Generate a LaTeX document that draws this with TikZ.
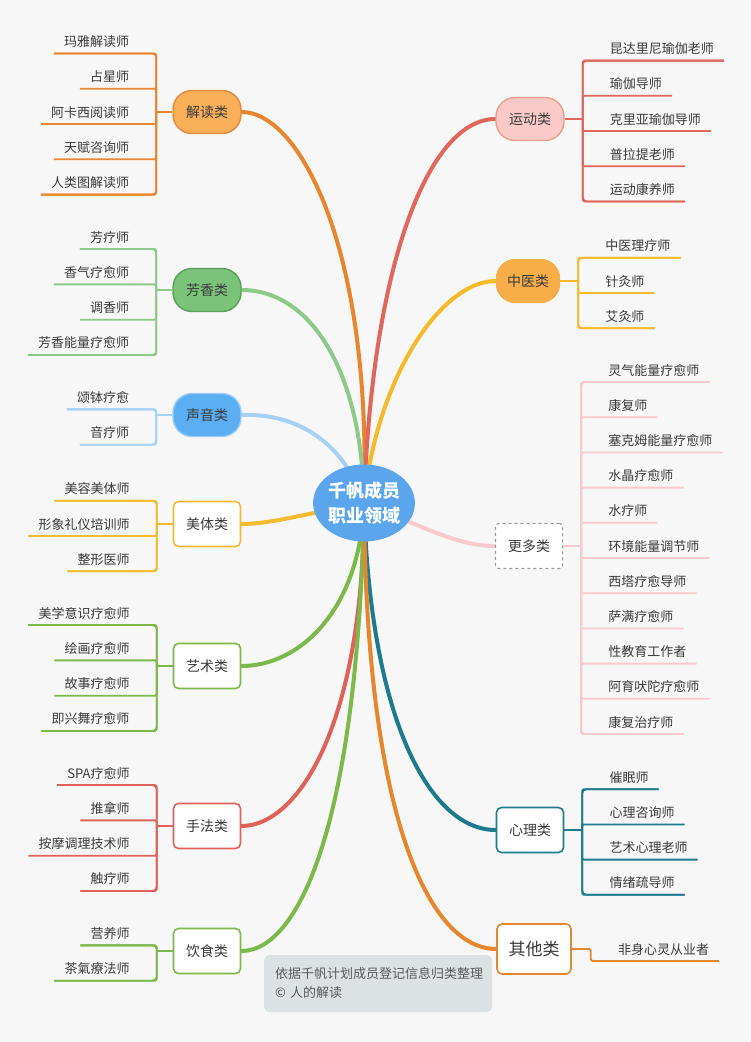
\documentclass[tikz,border=0pt]{standalone}
\usepackage{fontspec}
\setmainfont{Noto Sans CJK SC}
\usetikzlibrary{shapes.geometric,calc,backgrounds}
\definecolor{bgc}{HTML}{F7F7F7}
\definecolor{txt}{HTML}{3A3A3A}
\definecolor{cJD}{HTML}{E8862F}
\definecolor{cJDf}{HTML}{F8AF58}
\definecolor{cJDb}{HTML}{E48A3C}
\definecolor{cFX}{HTML}{8DCA8A}
\definecolor{cFXf}{HTML}{7CC37A}
\definecolor{cFXb}{HTML}{5A9F57}
\definecolor{cSY}{HTML}{A6D0F4}
\definecolor{cSYf}{HTML}{5BAEF2}
\definecolor{cSYb}{HTML}{9ACDF5}
\definecolor{cMT}{HTML}{F2BB30}
\definecolor{cYS}{HTML}{7DB84A}
\definecolor{cSF}{HTML}{DF625A}
\definecolor{cYD}{HTML}{DF675C}
\definecolor{cYDf}{HTML}{FAC9C8}
\definecolor{cYDb}{HTML}{E8A08C}
\definecolor{cZY}{HTML}{F5BA2B}
\definecolor{cZYf}{HTML}{F8AE48}
\definecolor{cGD}{HTML}{F8CACD}
\definecolor{cXL}{HTML}{1E7B8E}
\definecolor{cQT}{HTML}{E6872E}
\definecolor{cC}{HTML}{5AA5EC}
\definecolor{noteC}{HTML}{DCE2E4}
\newcommand\leavesL[4]{%
  \coordinate (#1-j) at ($(#1.west)+(-16,0)$);
  \draw[leafline,#2] (#1-j) -- (#1.west);
  \foreach \t [count=\i] in {#4} {
    \node[leaf, anchor=base east] (#1-\i) at ($(#1.west)+(-43,{(\i-1-(#3-1)/2)*35.3+5})$) {\t};
    \draw[leafline,#2,rounded corners=1.5pt] ($(#1-\i.base west)+(-10,7)$) -| (#1-j);
  }
  \draw[leafline,#2,rounded corners=4pt] ($(#1-1.base west)+(-10,7)$) -| (#1-j) |- ($(#1-#3.base west)+(-10,7)$);}
\newcommand\leavesR[4]{%
  \coordinate (#1-j) at ($(#1.east)+(18,0)$);
  \draw[leafline,#2] (#1.east) -- (#1-j);
  \foreach \t [count=\i] in {#4} {
    \node[leaf, anchor=base west] (#1-\i) at ($(#1.east)+(45,{(\i-1-(#3-1)/2)*35.2+5})$) {\t};
    \draw[leafline,#2,rounded corners=1.5pt] (#1-j) |- ($(#1-\i.base east)+(10,7)$);
  }
  \draw[leafline,#2,rounded corners=4pt] ($(#1-1.base east)+(10,7)$) -| (#1-j) |- ($(#1-#3.base east)+(10,7)$);}
\begin{document}
\begin{tikzpicture}[x=1pt,y=-1pt,
  leaf/.style={inner sep=0pt, font=\fontsize{13}{15}\selectfont, text=txt},
  leafline/.style={line width=1.8pt},
  pill/.style={rounded corners=19pt, minimum width=68pt, minimum height=43pt, line width=1.4pt, font=\fontsize{14}{16}\selectfont, text=txt, inner sep=0pt},
  wbox/.style={rounded corners=5pt, fill=white, minimum width=67pt, minimum height=45pt, line width=1.6pt, font=\fontsize{14}{16}\selectfont, text=txt, inner sep=0pt},
  branch/.style={line width=4pt, line cap=round},
  note/.style={fill=noteC, rounded corners=5pt, text width=206pt, align=left, inner xsep=11pt, minimum height=57pt, font=\fontsize{13}{19}\selectfont, text=black!65}]
\useasboundingbox (0,0) rectangle (751,1042);
% center
\node[ellipse, fill=cC, minimum width=86pt, minimum height=77pt, inner sep=0pt, align=center, text=white, font=\bfseries\fontsize{18}{25}\selectfont] (c) at (364,503) {千帆成员\\职业领域};
% left categories
\node[pill, fill=cJDf, draw=cJDb] (jd) at (207,112) {解读类};
\node[pill, fill=cFXf, draw=cFXb] (fx) at (207,290) {芳香类};
\node[pill, fill=cSYf, draw=cSYb] (sy) at (207,415) {声音类};
\node[wbox, draw=cMT] (mt) at (207,524) {美体类};
\node[wbox, draw=cYS] (ys) at (207,666) {艺术类};
\node[wbox, draw=cSF] (sf) at (207,826) {手法类};
\node[wbox, draw=cYS] (yshi) at (207,951) {饮食类};
% right categories
\node[pill, fill=cYDf, draw=cYDb] (yd) at (530,119) {运动类};
\node[pill, fill=cZYf, draw=cZYf, minimum width=63pt] (zy) at (528,281) {中医类};
\node[wbox, draw=black!40, dashed, line width=1.2pt, rounded corners=3pt] (gd) at (529,546) {更多类};
\node[wbox, draw=cXL] (xl) at (530,830) {心理类};
\node[wbox, draw=cQT, minimum width=74pt, minimum height=50pt, font=\fontsize{17}{19}\selectfont] (qt) at (534,949) {其他类};
% leaves
\leavesL{jd}{cJD}{5}{玛雅解读师,占星师,阿卡西阅读师,天赋咨询师,人类图解读师}
\leavesL{fx}{cFX}{4}{芳疗师,香气疗愈师,调香师,芳香能量疗愈师}
\leavesL{sy}{cSY}{2}{颂钵疗愈,音疗师}
\leavesL{mt}{cMT}{3}{美容美体师,形象礼仪培训师,整形医师}
\leavesL{ys}{cYS}{4}{美学意识疗愈师,绘画疗愈师,故事疗愈师,即兴舞疗愈师}
\leavesL{sf}{cSF}{4}{SPA疗愈师,推拿师,按摩调理技术师,触疗师}
\leavesL{yshi}{cYS}{2}{营养师,茶氣療法师}
\leavesR{yd}{cYD}{5}{昆达里尼瑜伽老师,瑜伽导师,克里亚瑜伽导师,普拉提老师,运动康养师}
\leavesR{zy}{cZY}{3}{中医理疗师,针灸师,艾灸师}
\leavesR{gd}{cGD}{11}{灵气能量疗愈师,康复师,塞克姆能量疗愈师,水晶疗愈师,水疗师,环境能量调节师,西塔疗愈导师,萨满疗愈师,性教育工作者,阿育吠陀疗愈师,康复治疗师}
\leavesR{xl}{cXL}{4}{催眠师,心理咨询师,艺术心理老师,情绪疏导师}
% other
\coordinate (qt-j) at ($(qt.east)+(19,0)$);
\node[leaf, anchor=base west] (qt-1) at ($(qt.east)+(46,5)$) {非身心灵从业者};
\draw[leafline,cQT,rounded corners=1.5pt] (qt.east) -- (qt-j) |- ($(qt-1.base east)+(10,7)$);
% note
\node[note] (nt) at (378,983.5) {依据千帆计划成员登记信息归类整理\\© 人的解读};
% branches
\begin{scope}[on background layer]
\fill[bgc] (0,0) rectangle (751,1042);
\draw[branch, cJD] (c.center) .. controls (372,250) and (300,112) .. (jd.east);
\draw[branch, cFX] (c.center) .. controls (362,370) and (310,290) .. (fx.east);
\draw[branch, cSY] (c.center) .. controls (345,445) and (300,413) .. (sy.east);
\draw[branch, cMT] (c.center) .. controls (300,515) and (270,524) .. (mt.east);
\draw[branch, cYS] (c.center) .. controls (360,610) and (300,666) .. (ys.east);
\draw[branch, cSF] (c.center) .. controls (364,720) and (300,826) .. (sf.east);
\draw[branch, cYS] (c.center) .. controls (358,820) and (300,951) .. (yshi.east);
\draw[branch, cYD] (c.center) .. controls (372,260) and (430,119) .. (yd.west);
\draw[branch, cZY] (c.center) .. controls (376,380) and (440,281) .. (zy.west);
\draw[branch, cGD] (c.center) .. controls (430,530) and (460,546) .. (gd.west);
\draw[branch, cXL] (c.center) .. controls (370,720) and (430,830) .. (xl.west);
\draw[branch, cQT] (c.center) .. controls (366,820) and (430,949) .. (qt.west);
\end{scope}
\end{tikzpicture}
\end{document}
